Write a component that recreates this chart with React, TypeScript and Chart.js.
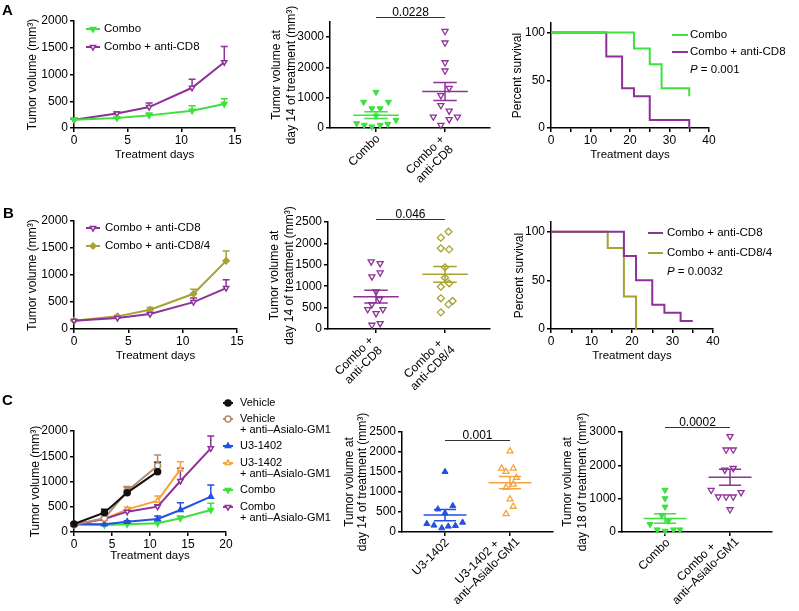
import React, { useEffect, useRef } from 'react';
import { Chart, registerables } from 'chart.js';
import { drawPoint } from 'chart.js/helpers';

Chart.register(...registerables);

const FONT = '"Liberation Sans", Arial, Helvetica, sans-serif';
Chart.defaults.font.family = FONT;
Chart.defaults.color = '#000';

// ---------- colours ----------
const GREEN = '#3ee03e';
const PURPLE = '#8e3199';
const OLIVE = '#a8a231';
const BLUE = '#2352de';
const ORANGE = '#f6a33a';
const TAN = '#b48c6e';
const BLACK = '#111111';
const AXIS = '#000000';

// ---------- data: panel A ----------
const daysA = [0, 4, 7, 11, 14];
const a1Combo = [155, 186, 236, 323, 447];
const a1ComboErr = [8, 12, 44, 93, 100];
const a1CD8 = [155, 273, 391, 752, 1230];
const a1CD8Err = [8, 25, 75, 161, 292];

const a2Labels = [['Combo'], ['Combo +', 'anti-CD8']];
const a2ComboJit = [0, -0.18, 0.18, -0.06, 0.06, 0, 0.29, -0.28, -0.17, -0.06, 0.06, 0.17];
const a2ComboVal = [1185, 859, 859, 641, 641, 402, 261, 152, 98, 43, 98, 130];
const a2CD8Jit = [0, 0, 0, 0, 0.06, -0.06, -0.06, 0.06, -0.17, 0.06, 0.18, -0.06];
const a2CD8Val = [3196, 2815, 2163, 1891, 1315, 1076, 750, 565, 370, 283, 370, 98];
const a2Mean = [424, 1207];
const a2Sem = [109, 299];
const a2P = '0.0228';
const a2PLevel = 3665;

const survDaysA_Combo = [0, 21, 25, 28, 35];
const survA_Combo = [100, 83.3, 66.7, 41.7, 33.3];
const survDaysA_CD8 = [0, 14, 18, 21, 25, 35];
const survA_CD8 = [100, 75, 41.7, 33.3, 8.3, 0];
const a3P = '0.001';

// ---------- data: panel B ----------
const b1CD8 = [154, 203, 277, 498, 757];
const b1CD8Err = [8, 15, 30, 74, 154];
const b1CD84 = [154, 234, 357, 652, 1262];
const b1CD84Err = [8, 15, 43, 86, 184];

const b2Labels = [['Combo +', 'anti-CD8'], ['Combo +', 'anti-CD8/4']];
const b2CD8Jit = [-0.07, 0.06, -0.06, 0.06, 0, 0.05, -0.06, -0.12, 0.1, 0, -0.06, 0.06];
const b2CD8Val = [1573, 1534, 1223, 1316, 872, 693, 576, 460, 460, 366, 93, 132];
const b2CD84Jit = [0.05, -0.06, -0.06, 0.06, 0, 0, -0.06, 0.06, -0.06, 0.11, 0.05, -0.06];
const b2CD84Val = [2274, 2134, 1885, 1861, 1441, 1199, 989, 1067, 717, 654, 576, 389];
const b2Mean = [755, 1277];
const b2Sem = [148, 183];
const b2P = '0.046';
const b2PLevel = 2570;

const survDaysB_CD8 = [0, 18, 21, 25, 28, 32, 35];
const survB_CD8 = [100, 75, 50, 25, 16.7, 8.3, 8.3];
const survDaysB_CD84 = [0, 14, 18, 21];
const survB_CD84 = [100, 83.3, 33.3, 0];
const b3P = '0.0032';

// ---------- data: panel C ----------
const daysC = [0, 4, 7, 11, 14, 18];
const cVehicle = [158, 383, 779, 1195];
const cVehicleErr = [10, 66, 119, 184];
const cVehAsialo = [146, 271, 812, 1313];
const cVehAsialoErr = [10, 30, 90, 212];
const cU3 = [158, 152, 205, 257, 436, 700];
const cU3Err = [8, 10, 20, 60, 145, 231];
const cU3Asialo = [146, 257, 449, 620, 1241];
const cU3AsialoErr = [8, 20, 39, 93, 152];
const cCombo = [146, 139, 152, 172, 271, 436];
const cComboErr = [8, 8, 10, 15, 46, 132];
const cComboAsialo = [146, 257, 403, 502, 1010, 1657];
const cComboAsialoErr = [8, 20, 30, 40, 250, 244];

const c2Labels = [['U3-1402'], ['U3-1402 +', 'anti\u2013Asialo-GM1']];
const c2U3Jit = [0, -0.11, 0.12, 0, -0.28, -0.17, -0.05, 0.05, 0.16, 0.27];
const c2U3Val = [1507, 571, 654, 472, 207, 166, 99, 141, 157, 240];
const c2AsJit = [0, -0.13, 0.05, -0.06, 0.1, 0.05, -0.06, 0, 0.05, -0.06];
const c2AsVal = [2020, 1589, 1589, 1507, 1358, 1192, 1109, 820, 637, 455];
const c2Mean = [422, 1233];
const c2Sem = [140, 153];
const c2P = '0.001';
const c2PLevel = 2306;

const c3Labels = [['Combo'], ['Combo +', 'anti\u2013Asialo-GM1']];
const c3ComboJit = [0, 0, 0, -0.05, 0.05, -0.23, -0.12, 0, 0.13, 0.23];
const c3ComboVal = [1259, 1007, 755, 504, 332, 232, 70, 30, 70, 70];
const c3AsJit = [0, -0.06, 0.05, -0.08, 0.05, -0.29, -0.18, -0.06, 0.05, 0.17, 0];
const c3AsVal = [2870, 2467, 2467, 1863, 1913, 1259, 1057, 1057, 1057, 1188, 675];
const c3Mean = [403, 1641];
const c3Sem = [141, 240];
const c3P = '0.0002';
const c3PLevel = 3141;

const volTicks = [0, 500, 1000, 1500, 2000];
const survTicksY = [0, 50, 100];
const survTicksX = [0, 5, 10, 15, 20, 25, 30, 35, 40];

// ---------- helpers ----------
type Box = { x: number; y: number; w: number; h: number };
type Area = { l: number; t: number; r: number; b: number };
type LegendItem = { lines: string[]; y: number; color: string; style?: string; rot?: number; open?: boolean };
type LegendSpec = { x0: number; x1: number; tx: number; size: number; gap: number; items: LegendItem[]; p?: { text: string; y: number } };
type SigSpec = { x1: number; x2: number; v: number; text: string };
type TextSpec = { text: string; x: number; y: number; font: string };
type CatSpec = { labels: string[][]; offs: number[][] };

const tickList = (vals: number[]) => (s: any) => {
  s.ticks = vals.map((v) => ({ value: v }));
};

function gridOpts() {
  return {
    border: { display: true, color: AXIS, width: 1.5 },
    grid: { display: true, drawOnChartArea: false, drawTicks: true, tickLength: 4, color: AXIS, lineWidth: 1.5 },
  };
}

function yAxis(box: Box, area: Area, max: number, ticks: number[], title: string | string[], titleX: number, lh: number) {
  const size = 12;
  return {
    type: 'linear',
    position: 'left',
    min: 0,
    max,
    ...gridOpts(),
    ticks: { font: { size: 12 }, color: '#000', padding: 2, autoSkip: false, callback: (v: any) => String(v) },
    afterBuildTicks: tickList(ticks),
    afterFit: (s: any) => {
      s.width = area.l - box.x;
    },
    title: {
      display: true,
      text: title,
      color: '#000',
      font: { size, lineHeight: lh },
      padding: { top: titleX - box.x - (size * lh) / 2, bottom: 0 },
    },
  };
}

function xAxisDays(box: Box, area: Area, max: number, ticks: number[], titleY: number, labelFn: (v: number) => string) {
  const size = 11.5;
  const lh = 1.2;
  return {
    type: 'linear',
    position: 'bottom',
    min: 0,
    max,
    ...gridOpts(),
    ticks: { font: { size: 12 }, color: '#000', padding: 1, autoSkip: false, maxRotation: 0, minRotation: 0, callback: (v: any) => labelFn(v) },
    afterBuildTicks: tickList(ticks),
    afterFit: (s: any) => {
      s.height = box.y + box.h - area.b;
    },
    title: {
      display: true,
      text: 'Treatment days',
      color: '#000',
      font: { size, lineHeight: lh },
      padding: { top: 0, bottom: box.y + box.h - titleY - (size * lh) / 2 },
    },
  };
}

function xAxisCats(box: Box, area: Area, min: number, max: number) {
  return {
    type: 'linear',
    position: 'bottom',
    min,
    max,
    ...gridOpts(),
    ticks: { display: false, autoSkip: false },
    afterBuildTicks: tickList([1, 2]),
    afterFit: (s: any) => {
      s.height = box.y + box.h - area.b;
    },
  };
}

function baseOptions(box: Box, area: Area, scales: any) {
  return {
    responsive: false,
    animation: false,
    devicePixelRatio: 1,
    events: [],
    layout: {
      autoPadding: false,
      padding: { left: 0, top: area.t - box.y, right: box.x + box.w - area.r, bottom: 0 },
    },
    plugins: { legend: { display: false }, tooltip: { enabled: false }, title: { display: false } },
    scales,
  };
}

function lineDS(days: number[], vals: number[], errs: number[], color: string, style: string, rot: number, open: boolean) {
  return {
    type: 'line',
    data: vals.map((v, i) => ({ x: days[i], y: v })),
    errUp: errs,
    borderColor: color,
    backgroundColor: color,
    borderWidth: 2,
    tension: 0,
    fill: false,
    pointStyle: style,
    pointRadius: 3,
    pointRotation: rot,
    pointBackgroundColor: open ? '#ffffff' : color,
    pointBorderColor: color,
    pointBorderWidth: 1.5,
    clip: false,
  };
}

function survDS(days: number[], vals: number[], color: string) {
  return {
    type: 'line',
    data: vals.map((v, i) => ({ x: days[i], y: v })),
    borderColor: color,
    backgroundColor: color,
    borderWidth: 2,
    stepped: 'before',
    pointRadius: 0,
    fill: false,
    clip: false,
  };
}

function dotsDS(center: number, jit: number[], vals: number[], color: string, style: string, rot: number, open: boolean) {
  return {
    type: 'scatter',
    data: vals.map((v, i) => ({ x: center + jit[i], y: v })),
    pointStyle: style,
    pointRadius: 3.5,
    pointRotation: rot,
    pointBackgroundColor: open ? 'rgba(255,255,255,0)' : color,
    pointBorderColor: color,
    pointBorderWidth: open ? 1.3 : 1,
    showLine: false,
    clip: false,
  };
}

function meanDS(center: number, m: number, s: number, color: string) {
  const W = 0.33;
  const C = 0.17;
  return {
    type: 'scatter',
    data: [
      { x: center - W, y: m },
      { x: center + W, y: m },
      { x: center, y: null },
      { x: center - C, y: m + s },
      { x: center + C, y: m + s },
      { x: center, y: null },
      { x: center - C, y: m - s },
      { x: center + C, y: m - s },
      { x: center, y: null },
      { x: center, y: m - s },
      { x: center, y: m + s },
    ],
    showLine: true,
    spanGaps: false,
    borderColor: color,
    borderWidth: 1.5,
    pointRadius: 0,
    clip: false,
  };
}

function makeDecor(box: Box, opts: { legend?: LegendSpec; sig?: SigSpec; texts?: TextSpec[]; cats?: CatSpec }) {
  return {
    id: 'decor',
    beforeDatasetsDraw(chart: any) {
      const ctx = chart.ctx;
      const ys = chart.scales.y;
      chart.data.datasets.forEach((ds: any, i: number) => {
        if (!ds.errUp) return;
        const meta = chart.getDatasetMeta(i);
        ctx.save();
        ctx.strokeStyle = ds.borderColor;
        ctx.lineWidth = 1.5;
        meta.data.forEach((el: any, j: number) => {
          const e = ds.errUp[j];
          if (!e) return;
          const top = ys.getPixelForValue(ds.data[j].y + e);
          ctx.beginPath();
          ctx.moveTo(el.x, el.y);
          ctx.lineTo(el.x, top);
          ctx.moveTo(el.x - 3.5, top);
          ctx.lineTo(el.x + 3.5, top);
          ctx.stroke();
        });
        ctx.restore();
      });
    },
    afterDraw(chart: any) {
      const ctx = chart.ctx;
      const ox = box.x;
      const oy = box.y;
      ctx.save();
      if (opts.cats) {
        const xs = chart.scales.x;
        const axisY = chart.chartArea.bottom;
        const LH = 13;
        ctx.font = `12px ${FONT}`;
        ctx.fillStyle = '#000';
        ctx.textAlign = 'center';
        ctx.textBaseline = 'middle';
        opts.cats.labels.forEach((lines, i) => {
          const px = xs.getPixelForValue(i + 1);
          const n = lines.length;
          const W = Math.max(...lines.map((t) => ctx.measureText(t).width));
          const off = opts.cats!.offs[i];
          ctx.save();
          ctx.translate(px + off[0], axisY + off[1]);
          ctx.rotate(-Math.PI / 4);
          lines.forEach((t, k) => ctx.fillText(t, -W / 2, (k - (n - 1)) * LH));
          ctx.restore();
        });
      }
      if (opts.sig) {
        const S = opts.sig;
        const xs = chart.scales.x;
        const ys = chart.scales.y;
        const py = Math.round(ys.getPixelForValue(S.v)) + 0.5;
        const x1 = xs.getPixelForValue(S.x1);
        const x2 = xs.getPixelForValue(S.x2);
        ctx.strokeStyle = '#333';
        ctx.lineWidth = 1;
        ctx.beginPath();
        ctx.moveTo(x1, py);
        ctx.lineTo(x2, py);
        ctx.stroke();
        ctx.font = `12px ${FONT}`;
        ctx.textAlign = 'center';
        ctx.textBaseline = 'alphabetic';
        ctx.fillStyle = '#000';
        ctx.fillText(S.text, (x1 + x2) / 2, py - 2);
      }
      if (opts.legend) {
        const L = opts.legend;
        ctx.textBaseline = 'middle';
        ctx.textAlign = 'left';
        L.items.forEach((it) => {
          const y = it.y - oy;
          ctx.strokeStyle = it.color;
          ctx.lineWidth = 2;
          ctx.beginPath();
          ctx.moveTo(L.x0 - ox, y);
          ctx.lineTo(L.x1 - ox, y);
          ctx.stroke();
          if (it.style) {
            ctx.fillStyle = it.open ? '#ffffff' : it.color;
            ctx.strokeStyle = it.color;
            ctx.lineWidth = 1.5;
            drawPoint(ctx, { pointStyle: it.style as any, rotation: it.rot || 0, radius: 3, borderWidth: 1.5 } as any, (L.x0 + L.x1) / 2 - ox, y);
          }
          ctx.fillStyle = '#000';
          ctx.font = `${L.size}px ${FONT}`;
          it.lines.forEach((t, k) => ctx.fillText(t, L.tx - ox, y + k * L.gap));
        });
        if (L.p) {
          const y = L.p.y - oy;
          let x = L.tx - ox;
          ctx.fillStyle = '#000';
          ctx.font = `italic ${L.size}px ${FONT}`;
          ctx.fillText('P', x, y);
          x += ctx.measureText('P').width;
          ctx.font = `${L.size}px ${FONT}`;
          ctx.fillText(' = ' + L.p.text, x, y);
        }
      }
      if (opts.texts) {
        ctx.textAlign = 'left';
        ctx.textBaseline = 'alphabetic';
        ctx.fillStyle = '#000';
        opts.texts.forEach((t) => {
          ctx.font = t.font;
          ctx.fillText(t.text, t.x - ox, t.y - oy);
        });
      }
      ctx.restore();
    },
  };
}

// ---------- layout boxes ----------
const boxA1: Box = { x: 0, y: 0, w: 262, h: 172 };
const areaA1: Area = { l: 74, t: 21, r: 235, b: 128 };
const boxA2: Box = { x: 262, y: 0, w: 240, h: 192 };
const areaA2: Area = { l: 330, t: 22, r: 490, b: 128 };
const boxA3: Box = { x: 505, y: 0, w: 294, h: 172 };
const areaA3: Area = { l: 551, t: 23, r: 709, b: 128 };
const boxB1: Box = { x: 0, y: 195, w: 262, h: 172 };
const areaB1: Area = { l: 74, t: 221, r: 237, b: 329 };
const boxB2: Box = { x: 262, y: 195, w: 240, h: 205 };
const areaB2: Area = { l: 328, t: 222, r: 490, b: 329 };
const boxB3: Box = { x: 505, y: 195, w: 294, h: 172 };
const areaB3: Area = { l: 551, t: 222, r: 713, b: 329 };
const boxC1: Box = { x: 0, y: 395, w: 345, h: 175 };
const areaC1: Area = { l: 74, t: 431, r: 226, b: 532 };
const boxC2: Box = { x: 335, y: 395, w: 230, h: 216 };
const areaC2: Area = { l: 402, t: 432, r: 553, b: 532 };
const boxC3: Box = { x: 555, y: 395, w: 244, h: 216 };
const areaC3: Area = { l: 622, t: 432, r: 772, b: 532 };

// offsets of each category label's last-line end (from tick, axis)
const offsA2 = [[2, 9], [7, 19]];
const offsB2 = [[5, 19], [8, 19]];
const offsC2 = [[2, 9], [8, 8]];
const offsC3 = [[3, 9], [7, 8]];

const VOL_TITLE = 'Tumor volume (mm\u00b3)';
const D14_TITLE = ['Tumor volume at', 'day 14 of treatment (mm\u00b3)'];
const D18_TITLE = ['Tumor volume at', 'day 18 of treatment (mm\u00b3)'];
const LETTER_FONT = `bold 15px ${FONT}`;
const plainLabel = (v: number) => String(v);
const tensLabel = (v: number) => (v % 10 === 0 ? String(v) : '');

// ---------- chart builders ----------
function makeA1() {
  return {
    type: 'line',
    data: {
      datasets: [
        lineDS(daysA, a1Combo, a1ComboErr, GREEN, 'triangle', 180, false),
        lineDS(daysA, a1CD8, a1CD8Err, PURPLE, 'triangle', 180, true),
      ],
    },
    options: baseOptions(boxA1, areaA1, {
      x: xAxisDays(boxA1, areaA1, 15, [0, 5, 10, 15], 155, plainLabel),
      y: yAxis(boxA1, areaA1, 2000, volTicks, VOL_TITLE, 33, 1.2),
    }),
    plugins: [
      makeDecor(boxA1, {
        legend: {
          x0: 86, x1: 100, tx: 104, size: 11.5, gap: 12,
          items: [
            { lines: ['Combo'], y: 29, color: GREEN, style: 'triangle', rot: 180 },
            { lines: ['Combo + anti-CD8'], y: 47, color: PURPLE, style: 'triangle', rot: 180, open: true },
          ],
        },
        texts: [{ text: 'A', x: 2, y: 15, font: LETTER_FONT }],
      }),
    ],
  };
}

function makeScatter(box: Box, area: Area, min: number, max: number, cats: CatSpec, ymax: number, yticks: number[], title: string[], titleX: number, lh: number, datasets: any[], sig: SigSpec) {
  return {
    type: 'scatter',
    data: { datasets },
    options: baseOptions(box, area, {
      x: xAxisCats(box, area, min, max),
      y: yAxis(box, area, ymax, yticks, title, titleX, lh),
    }),
    plugins: [makeDecor(box, { sig, cats })],
  };
}

function makeA2() {
  return makeScatter(boxA2, areaA2, 0.333, 2.652, { labels: a2Labels, offs: offsA2 }, 3500, [0, 1000, 2000, 3000], D14_TITLE, 277, 1.25, [
    meanDS(1, a2Mean[0], a2Sem[0], GREEN),
    meanDS(2, a2Mean[1], a2Sem[1], PURPLE),
    dotsDS(1, a2ComboJit, a2ComboVal, GREEN, 'triangle', 180, false),
    dotsDS(2, a2CD8Jit, a2CD8Val, PURPLE, 'triangle', 180, true),
  ], { x1: 1, x2: 2, v: a2PLevel, text: a2P });
}

function makeSurv(box: Box, area: Area, datasets: any[], legend: LegendSpec, titleX: number, titleY: number) {
  return {
    type: 'line',
    data: { datasets },
    options: baseOptions(box, area, {
      x: xAxisDays(box, area, 40, survTicksX, titleY, tensLabel),
      y: yAxis(box, area, 110, survTicksY, 'Percent survival', titleX, 1.2),
    }),
    plugins: [makeDecor(box, { legend })],
  };
}

function makeA3() {
  return makeSurv(boxA3, areaA3, [
    survDS(survDaysA_Combo, survA_Combo, GREEN),
    survDS(survDaysA_CD8, survA_CD8, PURPLE),
  ], {
    x0: 672, x1: 688, tx: 690, size: 11.5, gap: 12,
    items: [
      { lines: ['Combo'], y: 35, color: GREEN },
      { lines: ['Combo + anti-CD8'], y: 52, color: PURPLE },
    ],
    p: { text: a3P, y: 70 },
  }, 518, 155);
}

function makeB1() {
  return {
    type: 'line',
    data: {
      datasets: [
        lineDS(daysA, b1CD8, b1CD8Err, PURPLE, 'triangle', 180, true),
        lineDS(daysA, b1CD84, b1CD84Err, OLIVE, 'rectRot', 0, false),
      ],
    },
    options: baseOptions(boxB1, areaB1, {
      x: xAxisDays(boxB1, areaB1, 15, [0, 5, 10, 15], 356, plainLabel),
      y: yAxis(boxB1, areaB1, 2000, volTicks, VOL_TITLE, 33, 1.2),
    }),
    plugins: [
      makeDecor(boxB1, {
        legend: {
          x0: 86, x1: 100, tx: 105, size: 11.5, gap: 12,
          items: [
            { lines: ['Combo + anti-CD8'], y: 228, color: PURPLE, style: 'triangle', rot: 180, open: true },
            { lines: ['Combo + anti-CD8/4'], y: 246, color: OLIVE, style: 'rectRot' },
          ],
        },
        texts: [{ text: 'B', x: 3, y: 218, font: LETTER_FONT }],
      }),
    ],
  };
}

function makeB2() {
  return makeScatter(boxB2, areaB2, 0.304, 2.652, { labels: b2Labels, offs: offsB2 }, 2500, [0, 500, 1000, 1500, 2000, 2500], D14_TITLE, 275, 1.25, [
    meanDS(1, b2Mean[0], b2Sem[0], PURPLE),
    meanDS(2, b2Mean[1], b2Sem[1], OLIVE),
    dotsDS(1, b2CD8Jit, b2CD8Val, PURPLE, 'triangle', 180, true),
    dotsDS(2, b2CD84Jit, b2CD84Val, OLIVE, 'rectRot', 0, true),
  ], { x1: 1, x2: 2, v: b2PLevel, text: b2P });
}

function makeB3() {
  return makeSurv(boxB3, areaB3, [
    survDS(survDaysB_CD8, survB_CD8, PURPLE),
    survDS(survDaysB_CD84, survB_CD84, OLIVE),
  ], {
    x0: 648, x1: 663, tx: 667, size: 11.5, gap: 12,
    items: [
      { lines: ['Combo + anti-CD8'], y: 233, color: PURPLE },
      { lines: ['Combo + anti-CD8/4'], y: 253, color: OLIVE },
    ],
    p: { text: b3P, y: 272 },
  }, 520, 356);
}

function makeC1() {
  return {
    type: 'line',
    data: {
      datasets: [
        lineDS(daysC, cVehicle, cVehicleErr, BLACK, 'circle', 0, false),
        lineDS(daysC, cVehAsialo, cVehAsialoErr, TAN, 'circle', 0, true),
        lineDS(daysC, cComboAsialo, cComboAsialoErr, PURPLE, 'triangle', 180, true),
        lineDS(daysC, cU3Asialo, cU3AsialoErr, ORANGE, 'triangle', 0, true),
        lineDS(daysC, cU3, cU3Err, BLUE, 'triangle', 0, false),
        lineDS(daysC, cCombo, cComboErr, GREEN, 'triangle', 180, false),
      ],
    },
    options: baseOptions(boxC1, areaC1, {
      x: xAxisDays(boxC1, areaC1, 20, [0, 5, 10, 15, 20], 556, plainLabel),
      y: yAxis(boxC1, areaC1, 2000, volTicks, VOL_TITLE, 36, 1.2),
    }),
    plugins: [
      makeDecor(boxC1, {
        legend: {
          x0: 223, x1: 233, tx: 240, size: 11, gap: 10.5,
          items: [
            { lines: ['Vehicle'], y: 403, color: BLACK, style: 'circle' },
            { lines: ['Vehicle', '+ anti\u2013Asialo-GM1'], y: 419, color: TAN, style: 'circle', open: true },
            { lines: ['U3-1402'], y: 446, color: BLUE, style: 'triangle', rot: 0 },
            { lines: ['U3-1402', '+ anti\u2013Asialo-GM1'], y: 463, color: ORANGE, style: 'triangle', rot: 0, open: true },
            { lines: ['Combo'], y: 490, color: GREEN, style: 'triangle', rot: 180 },
            { lines: ['Combo', '+ anti\u2013Asialo-GM1'], y: 507, color: PURPLE, style: 'triangle', rot: 180, open: true },
          ],
        },
        texts: [{ text: 'C', x: 2, y: 405, font: LETTER_FONT }],
      }),
    ],
  };
}

function makeC2() {
  return makeScatter(boxC2, areaC2, 0.338, 2.662, { labels: c2Labels, offs: offsC2 }, 2500, [0, 500, 1000, 1500, 2000, 2500], D14_TITLE, 350, 1.083, [
    meanDS(1, c2Mean[0], c2Sem[0], BLUE),
    meanDS(2, c2Mean[1], c2Sem[1], ORANGE),
    dotsDS(1, c2U3Jit, c2U3Val, BLUE, 'triangle', 0, false),
    dotsDS(2, c2AsJit, c2AsVal, ORANGE, 'triangle', 0, true),
  ], { x1: 1, x2: 2, v: c2PLevel, text: c2P });
}

function makeC3() {
  return makeScatter(boxC3, areaC3, 0.338, 2.646, { labels: c3Labels, offs: offsC3 }, 3000, [0, 1000, 2000, 3000], D18_TITLE, 568, 1.25, [
    meanDS(1, c3Mean[0], c3Sem[0], GREEN),
    meanDS(2, c3Mean[1], c3Sem[1], PURPLE),
    dotsDS(1, c3ComboJit, c3ComboVal, GREEN, 'triangle', 180, false),
    dotsDS(2, c3AsJit, c3AsVal, PURPLE, 'triangle', 180, true),
  ], { x1: 1, x2: 2, v: c3PLevel, text: c3P });
}

const panels: { id: string; box: Box; make: () => any }[] = [
  { id: 'A1', box: boxA1, make: makeA1 },
  { id: 'A2', box: boxA2, make: makeA2 },
  { id: 'A3', box: boxA3, make: makeA3 },
  { id: 'B1', box: boxB1, make: makeB1 },
  { id: 'B2', box: boxB2, make: makeB2 },
  { id: 'B3', box: boxB3, make: makeB3 },
  { id: 'C1', box: boxC1, make: makeC1 },
  { id: 'C2', box: boxC2, make: makeC2 },
  { id: 'C3', box: boxC3, make: makeC3 },
];

function ChartCanvas({ box, make }: { box: Box; make: () => any }) {
  const ref = useRef<HTMLCanvasElement | null>(null);
  useEffect(() => {
    if (!ref.current) return;
    const chart = new Chart(ref.current, make());
    return () => chart.destroy();
  }, []);
  return (
    <canvas
      ref={ref}
      width={box.w}
      height={box.h}
      style={{ position: 'absolute', left: box.x, top: box.y, width: box.w, height: box.h }}
    />
  );
}

export default function App() {
  return (
    <div style={{ position: 'fixed', left: 0, top: 0, width: 799, height: 611, background: '#ffffff', overflow: 'hidden' }}>
      {panels.map((p) => (
        <ChartCanvas key={p.id} box={p.box} make={p.make} />
      ))}
    </div>
  );
}
